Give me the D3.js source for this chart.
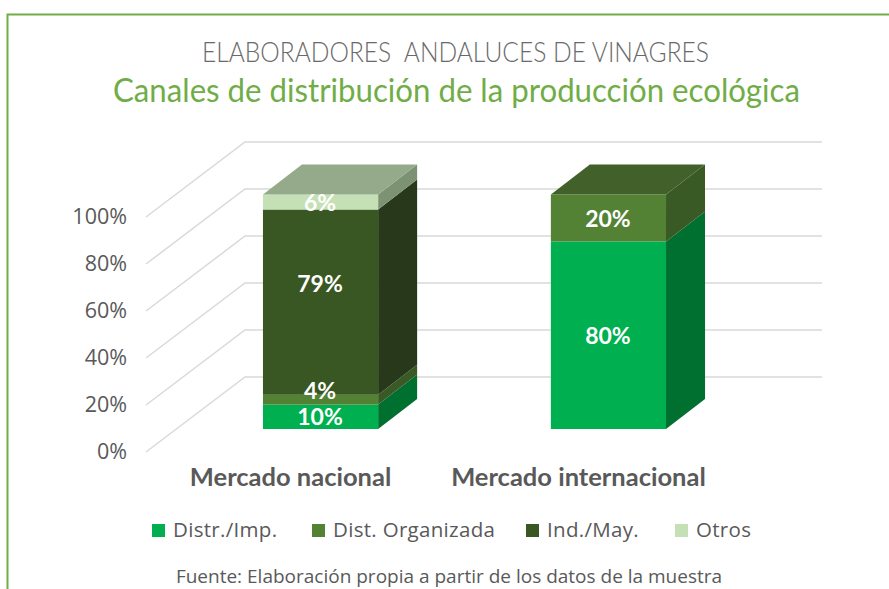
<!DOCTYPE html>
<html><head><meta charset="utf-8">
<script src="https://cdn.jsdelivr.net/npm/d3@7"></script>
<style>html,body{margin:0;padding:0;background:#fff}svg{display:block}text{font-family:Lato,sans-serif}</style>
</head><body><div id="c"></div>
<script>
const categories = ["Mercado nacional", "Mercado internacional"];
const seriesNames = ["Distr./Imp.", "Dist. Organizada", "Ind./May.", "Otros"];
const distrImp = [10.4, 80];
const distOrganizada = [4.2, 20];
const indMay = [79, 0];
const otros = [6.4, 0];
const tickLabels = [0, 20, 40, 60, 80, 100];
const frontColors = ["#00B050", "#548235", "#385723", "#C5E0B4"];
const sideColors = ["#007030", "#3A5A25", "#27391A", "#7D9272"];
const topColors = ["#00B050", "#41602A", "#385723", "#94AA8A"];
const allSeries = [distrImp, distOrganizada, indMay, otros];

const W = 889, H = 589;
const svg = d3.select("#c").append("svg").attr("width", W).attr("height", H);
const grey = "#595959";
const sans = "'Open Sans',sans-serif";

// frame
svg.append("path").attr("d", "M7.5,589V14.5H889").attr("fill", "none").attr("stroke", "#70AD47").attr("stroke-width", 2);

// titles
svg.append("text").attr("x", 455.5).attr("y", 62).attr("text-anchor", "middle").attr("fill", "#6a6a6a")
  .attr("font-size", 28).attr("font-weight", 300).style("white-space", "pre").attr("textLength", 507).attr("lengthAdjust", "spacingAndGlyphs").text("ELABORADORES  ANDALUCES DE VINAGRES");
svg.append("text").attr("x", 456.5).attr("y", 102).attr("text-anchor", "middle").attr("fill", "#70AD47")
  .attr("font-size", 33).attr("textLength", 687).attr("lengthAdjust", "spacingAndGlyphs").text("Canales de distribución de la producción ecológica");

// scales
const x = d3.scaleBand().domain(categories).range([176.6, 752.4]).paddingInner(0.6).paddingOuter(0.3);
const yBar = d3.scaleLinear().domain([0, 100]).range([429, 194.5]);
const yWall = d3.scaleLinear().domain([0, 100]).range([377, 142]);
const yFront = d3.scaleLinear().domain([0, 100]).range([452, 217]);
const wallX0 = 245, wallX1 = 822, floorX = 146;
const barDx = 39, barDy = -30;

// gridlines
const g = svg.append("g").attr("fill", "none").attr("stroke", "#D9D9D9").attr("stroke-width", 1.5);
tickLabels.forEach(t => {
  g.append("path").attr("d", `M${floorX},${yFront(t)}L${wallX0},${yWall(t)}L${wallX1},${yWall(t)}`);
});

// y axis labels
const yAxis = svg.append("g").attr("transform", "translate(127,-0.5)")
  .call(d3.axisLeft(yFront).tickValues(tickLabels).tickSize(0).tickPadding(0).tickFormat(d => d + "%"));
yAxis.select(".domain").remove();
yAxis.selectAll("text").attr("font-size", 21.5).attr("fill", grey).style("font-family", sans);

// bars
categories.forEach((c, i) => {
  const x0 = x(c), x1 = x0 + x.bandwidth();
  let acc = 0;
  const bar = svg.append("g");
  const lastIdx = d3.max(allSeries.map((s, k) => s[i] > 0 ? k : -1));
  allSeries.forEach((s, k) => {
    const v = s[i];
    if (!v) return;
    const y0 = yBar(acc), y1 = yBar(acc + v);
    acc += v;
    bar.append("path").attr("fill", sideColors[k])
      .attr("d", `M${x1},${y0}L${x1 + barDx},${y0 + barDy}L${x1 + barDx},${y1 + barDy}L${x1},${y1}Z`);
    bar.append("rect").attr("x", x0).attr("y", y1).attr("width", x.bandwidth()).attr("height", y0 - y1).attr("fill", frontColors[k]);
    if (k === lastIdx) {
      bar.append("path").attr("fill", topColors[k])
        .attr("d", `M${x0},${y1}L${x0 + barDx},${y1 + barDy}L${x1 + barDx},${y1 + barDy}L${x1},${y1}Z`);
    }
  });
});

// data labels (above all bar shapes)
categories.forEach((c, i) => {
  let acc = 0;
  const shifts = { 0: [0, -9.5, -19, 0], 1: [0, 0, 0, 0] }[i];
  allSeries.forEach((s, k) => {
    const v = s[i];
    if (!v) return;
    const yc = yBar(acc + v / 2) + shifts[k];
    acc += v;
    svg.append("text").attr("x", x(c) + x.bandwidth() / 2 - 0.5).attr("y", yc + 0.5).attr("dy", "0.35em")
      .attr("text-anchor", "middle").attr("fill", "#fff").attr("font-weight", 700).attr("font-size", 23)
      .text(Math.round(v) + "%");
  });
});

// category axis
const xAxis = svg.append("g").attr("transform", "translate(-30,468)")
  .call(d3.axisBottom(x).tickSize(0).tickPadding(0));
xAxis.select(".domain").remove();
xAxis.selectAll("text").attr("font-size", 25.5).attr("font-weight", 700).attr("fill", grey).style("font-family", "Lato,sans-serif");

// legend
const legendX = [152, 312, 526, 675];
const leg = svg.append("g");
seriesNames.forEach((n, k) => {
  leg.append("rect").attr("x", legendX[k]).attr("y", 524).attr("width", 13).attr("height", 13).attr("fill", frontColors[k]);
  leg.append("text").attr("x", legendX[k] + 21).attr("y", 537).attr("fill", grey).attr("font-size", 20.5).attr("letter-spacing", 0.3).style("font-family", sans).text(n);
});

// source
svg.append("text").attr("x", 449).attr("y", 583).attr("text-anchor", "middle").attr("fill", grey)
  .attr("font-size", 19).style("font-family", sans).text("Fuente: Elaboración propia a partir de los datos de la muestra");
</script></body></html>
